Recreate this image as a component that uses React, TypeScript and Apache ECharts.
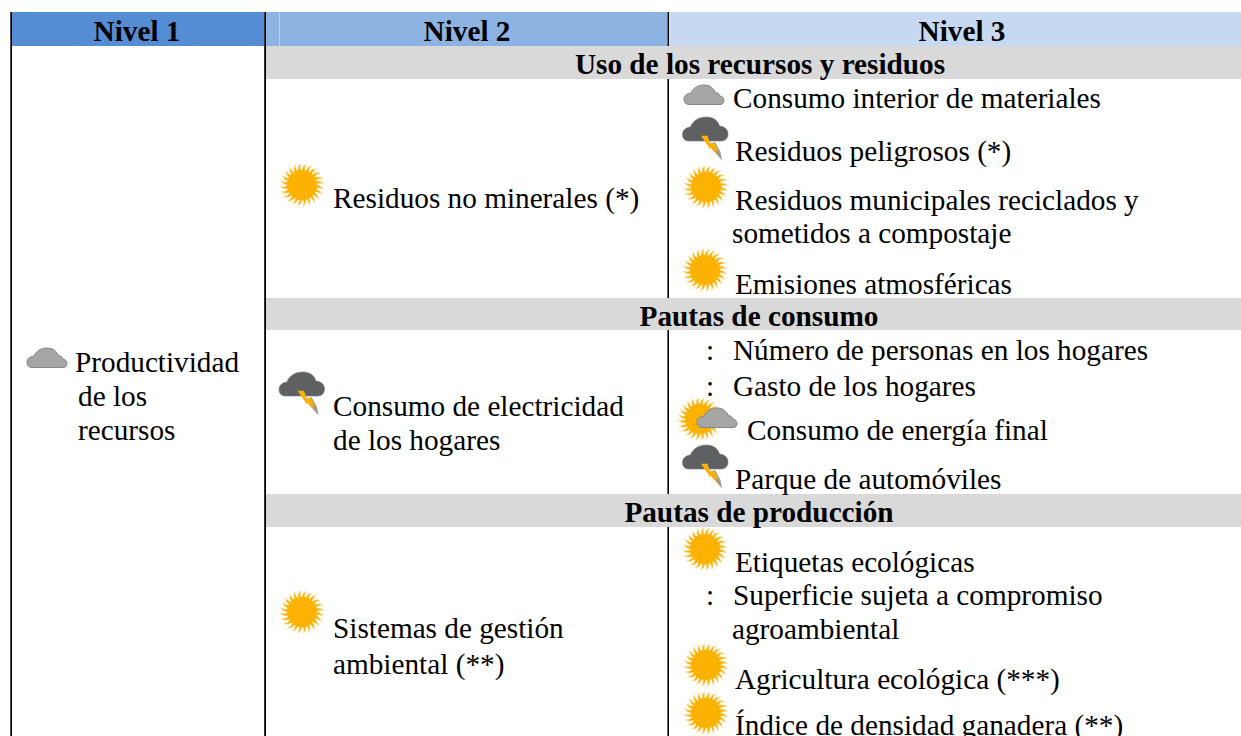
import React, { useEffect, useRef } from "react";
import * as echarts from "echarts";

const FONT = "'Liberation Serif'";
const FS = 29.25;

const headers = ["Nivel 1", "Nivel 2", "Nivel 3"];
const sections = ["Uso de los recursos y residuos", "Pautas de consumo", "Pautas de producción"];
const nivel1 = ["Productividad", "de los", "recursos"];
const nivel2 = [
  "Residuos no minerales (*)",
  "Consumo de electricidad",
  "de los hogares",
  "Sistemas de gestión",
  "ambiental (**)",
];
const nivel3 = [
  "Consumo interior de materiales",
  "Residuos peligrosos (*)",
  "Residuos municipales reciclados y",
  "sometidos a compostaje",
  "Emisiones atmosféricas",
  "Número de personas en los hogares",
  "Gasto de los hogares",
  "Consumo de energía final",
  "Parque de automóviles",
  "Etiquetas ecológicas",
  "Superficie sujeta a compromiso",
  "agroambiental",
  "Agricultura ecológica (***)",
  "Índice de densidad ganadera (**)",
];

// layout: [x, baseline]
const nivel1Pos = [[75, 370], [78, 404], [78, 438]];
const nivel2Pos = [[333, 206], [333, 414], [333, 448], [333, 636], [333, 672]];
const nivel3Pos = [
  [733, 106], [735, 159], [735, 208], [732, 241], [735, 292],
  [733, 358], [733, 394], [747, 438], [735, 487],
  [735, 570], [733, 603], [732, 637], [735, 687], [735, 733],
];
const headerCx = [137, 467, 962];
const sectionCx = [760, 759, 759];
const sectionTop = [46, 298, 494];
const sectionH = [33, 32, 33];
const colons = [[706, 358], [706, 394], [706, 603]];

const suns = [[302, 185], [302, 612], [706, 187], [705, 270], [705, 549], [706, 665], [706, 713]];
const clouds = [[27, 348], [684, 85]];
const storms = [[279, 372], [682.5, 117], [682.5, 445]];

const CLOUD_D =
  "M5 19.5C1.5 19.5 0 17 0 14.2C0 10.5 3 8.2 7 8.2C9 3 14 0 20 0C26 0 30 3.5 31.5 8C33.5 7.2 35.5 9 36 11.2C38.5 11.2 40 13.2 40 15.5C40 18 38.5 19.5 36 19.5Z";
const STORM_D =
  "M6 24C2 24 0 21 0 17.5C0 13.5 3 10.5 8 10C10 4 16 0 24 0C31 0 35.5 3.5 37 9C42 9.2 45.5 12.5 45.5 17C45.5 21 43 24 39 24Z";

echarts.graphic.registerShape("cloudIcon", echarts.graphic.extendPath(CLOUD_D, {}));
echarts.graphic.registerShape("stormIcon", echarts.graphic.extendPath(STORM_D, {}));

function sunPoints(cx: number, cy: number): number[][] {
  const pts: number[][] = [];
  const n = 24;
  const step = (Math.PI * 2) / n;
  for (let i = 0; i < n; i++) {
    const a = i * step;
    pts.push([cx + 15 * Math.cos(a), cy + 15 * Math.sin(a)]);
    pts.push([cx + 18.5 * Math.cos(a + step * 0.25), cy + 18.5 * Math.sin(a + step * 0.25)]);
    pts.push([cx + 22 * Math.cos(a + step * 0.75), cy + 21.5 * Math.sin(a + step * 0.75)]);
    pts.push([cx + 18 * Math.cos(a + step * 0.62), cy + 18 * Math.sin(a + step * 0.62)]);
    pts.push([cx + 15.5 * Math.cos(a + step * 0.7), cy + 15.5 * Math.sin(a + step * 0.7)]);
  }
  return pts;
}

function rect(x: number, y: number, w: number, h: number, fill: string) {
  return { type: "rect", shape: { x, y, width: w, height: h }, style: { fill }, silent: true };
}

function text(s: string, x: number, base: number, bold = false, align = "left") {
  return {
    type: "text",
    x,
    y: base,
    style: {
      text: s,
      x: 0,
      y: 0,
      fill: "#000",
      font: `${bold ? "bold " : ""}${FS}px ${FONT}`,
      textAlign: align,
      textVerticalAlign: "bottom",
    },
    silent: true,
  };
}

const textAt = (s: string, x: number, base: number, bold = false, align = "left") =>
  text(s, x, base + Math.round(FS * 0.22), bold, align);

function sun(cx: number, cy: number) {
  return {
    type: "polygon",
    shape: { points: sunPoints(cx, cy) },
    style: { fill: "#FDB200", stroke: "#FDD88A", lineWidth: 0.6 },
    silent: true,
  };
}
function cloud(x: number, y: number) {
  return {
    type: "cloudIcon",
    x,
    y,
    style: { fill: "#A6A6A6", stroke: "#868686", lineWidth: 1 },
    silent: true,
  };
}
function storm(x: number, y: number) {
  return {
    type: "group",
    x,
    y,
    silent: true,
    children: [
      { type: "stormIcon", style: { fill: "#5F6062", stroke: "#77787A", lineWidth: 0.6 } },
      {
        type: "polygon",
        shape: { points: [[25, 18.7], [28.5, 26.5], [32.5, 25], [38, 35], [39.5, 43.5], [34, 37], [30, 33]] },
        style: { fill: "#9A9A9A" },
      },
      {
        type: "polygon",
        shape: { points: [[18.5, 18.7], [25, 18.7], [27.5, 27], [31.8, 25.7], [36.5, 35], [33, 32.5], [35.5, 39], [29, 31], [27.5, 32]] },
        style: { fill: "#FDB200" },
      },
    ],
  };
}

export default function App() {
  const ref = useRef<HTMLDivElement>(null);
  useEffect(() => {
    const chart = echarts.init(ref.current!, undefined, { renderer: "svg" });
    const els: any[] = [];
    els.push(rect(0, 0, 1241, 736, "#FFFFFF"));
    els.push(rect(12, 12, 252, 34, "#548DD4"));
    els.push(rect(266, 12, 401, 34, "#8DB3E2"));
    els.push(rect(279, 12, 1, 34, "#B9CFEC"));
    els.push(rect(669, 12, 572, 34, "#C6D9F1"));
    sectionTop.forEach((t, i) => els.push(rect(266, t, 975, sectionH[i], "#D9D9D9")));
    els.push(rect(10.3, 12, 1.7, 724, "#000"));
    els.push(rect(264.2, 12, 1.8, 724, "#000"));
    els.push(rect(667.4, 12, 1.6, 34, "#000"));
    els.push(rect(667.4, 79, 1.6, 219, "#000"));
    els.push(rect(667.4, 330, 1.6, 164, "#000"));
    els.push(rect(667.4, 527, 1.6, 209, "#000"));

    headers.forEach((h, i) => els.push(textAt(h, headerCx[i], 39, true, "center")));
    sections.forEach((s, i) =>
      els.push(textAt(s, sectionCx[i], sectionTop[i] + 26, true, "center"))
    );
    nivel1.forEach((s, i) => els.push(textAt(s, nivel1Pos[i][0], nivel1Pos[i][1])));
    nivel2.forEach((s, i) => els.push(textAt(s, nivel2Pos[i][0], nivel2Pos[i][1])));
    nivel3.forEach((s, i) => els.push(textAt(s, nivel3Pos[i][0], nivel3Pos[i][1])));
    colons.forEach((c) => els.push(textAt(":", c[0], c[1])));

    suns.forEach((p) => els.push(sun(p[0], p[1])));
    clouds.forEach((p) => els.push(cloud(p[0], p[1])));
    storms.forEach((p) => els.push(storm(p[0], p[1])));
    els.push(sun(700, 419));
    els.push(cloud(697, 408));

    chart.setOption({ animation: false, graphic: { elements: els } });
    return () => chart.dispose();
  }, []);
  return (
    <div
      ref={ref}
      style={{ position: "absolute", left: 0, top: 0, width: 1241, height: 736 }}
    />
  );
}
